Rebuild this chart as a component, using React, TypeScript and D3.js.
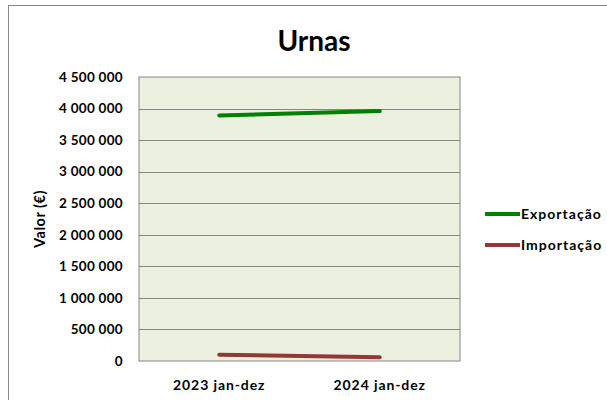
import React from 'react'
import * as d3 from 'd3'

const categories = ['2023 jan-dez', '2024 jan-dez']
const exportacao = [3890000, 3960000]
const importacao = [100000, 60000]
const yTicks = [0, 500000, 1000000, 1500000, 2000000, 2500000, 3000000, 3500000, 4000000, 4500000]

const series = [
	{ name: 'Exportação', values: exportacao, color: '#008000' },
	{ name: 'Importação', values: importacao, color: '#953735' }
]

const font = 'Lato, Calibri, "Open Sans", sans-serif'

const App = () => {
	const width = 607
	const height = 400
	const plot = { left: 139, top: 77, right: 460, bottom: 361 }

	const x = d3
		.scaleBand<string>()
		.domain(categories)
		.range([plot.left, plot.right])
	const y = d3
		.scaleLinear()
		.domain([0, 4500000])
		.range([plot.bottom, plot.top])

	const fmt = (v: number) => d3.format(',')(v).replace(/,/g, ' ')

	const line = d3
		.line<number>()
		.x((_, i) => (x(categories[i]) as number) + x.bandwidth() / 2)
		.y((d) => y(d))

	return (
		<svg
			width={width}
			height={height}
			style={{ position: 'absolute', left: 0, top: 0, fontFamily: font }}
		>
			<rect x={0} y={0} width={width} height={height} fill="#fff" />
			{/* chart border */}
			<rect x={8.5} y={5.5} width={width} height={height} fill="none" stroke="#888" />
			<text x={314} y={51} textAnchor="middle" fontSize={28} fontWeight="bold">
				Urnas
			</text>
			{/* plot area */}
			<rect
				x={plot.left}
				y={plot.top}
				width={plot.right - plot.left}
				height={plot.bottom - plot.top}
				fill="#EBF1DE"
				stroke="#868686"
			/>
			{yTicks.map((t) => (
				<g key={t}>
					{t > 0 && t < 4500000 && (
						<line
							x1={plot.left}
							x2={plot.right}
							y1={Math.round(y(t)) + 0.5}
							y2={Math.round(y(t)) + 0.5}
							stroke="#868686"
						/>
					)}
					<text
						x={123}
						y={y(t)}
						dy="0.35em"
						textAnchor="end"
						fontSize={13.5}
						letterSpacing={0.3}
						fontWeight="bold"
					>
						{fmt(t)}
					</text>
				</g>
			))}
			{categories.map((c) => (
				<text
					key={c}
					x={(x(c) as number) + x.bandwidth() / 2}
					y={390}
					textAnchor="middle"
					fontSize={14}
					letterSpacing={0.9}
					fontWeight="bold"
				>
					{c}
				</text>
			))}
			<text
				transform={`translate(45,${(plot.top + plot.bottom) / 2}) rotate(-90)`}
				textAnchor="middle"
				fontSize={14.5}
				letterSpacing={0.5}
				fontWeight="bold"
			>
				Valor (€)
			</text>
			{series.map((s) => (
				<path
					key={s.name}
					d={line(s.values) as string}
					fill="none"
					stroke={s.color}
					strokeWidth={4}
					strokeLinecap="round"
				/>
			))}
			{/* legend */}
			{series.map((s, i) => (
				<g key={s.name} transform={`translate(485,${214 + i * 31})`}>
					<line x1={0} x2={35} y1={0} y2={0} stroke={s.color} strokeWidth={4} />
					<text x={36} y={0} dy="0.35em" fontSize={14} letterSpacing={1} fontWeight="bold">
						{s.name}
					</text>
				</g>
			))}
		</svg>
	)
}

export default App
